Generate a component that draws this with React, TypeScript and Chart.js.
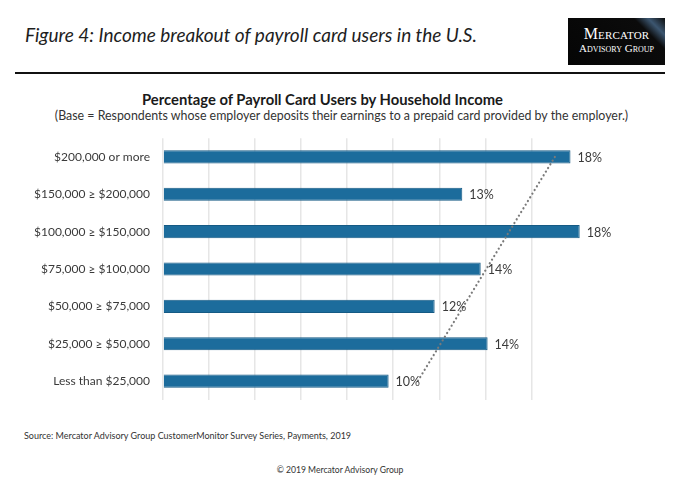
import React, { useEffect, useRef } from "react";
import { Chart, registerables } from "chart.js";

Chart.register(...registerables);

const categories = [
  "$200,000 or more",
  "$150,000 ≥ $200,000",
  "$100,000 ≥ $150,000",
  "$75,000 ≥ $100,000",
  "$50,000 ≥ $75,000",
  "$25,000 ≥ $50,000",
  "Less than $25,000",
];
const values = [17.7, 13.0, 18.1, 13.8, 11.8, 14.1, 9.8];
const valueLabels = ["18%", "13%", "18%", "14%", "12%", "14%", "10%"];

const FONT = "Lato, 'Open Sans', sans-serif";

const dataLabelPlugin = {
  id: "dataLabels",
  afterDatasetsDraw(chart: any) {
    const ctx = chart.ctx;
    const meta = chart.getDatasetMeta(0);
    ctx.save();
    ctx.font = `12.5px ${FONT}`;
    ctx.fillStyle = "#3a3a3a";
    ctx.textAlign = "left";
    ctx.textBaseline = "middle";
    meta.data.forEach((el: any, i: number) => {
      ctx.fillText(valueLabels[i], el.x + 7, el.y + 1);
    });
    ctx.restore();
  },
};

const trendPlugin = {
  id: "trendLine",
  afterDatasetsDraw(chart: any) {
    const n = values.length;
    let sx = 0, sy = 0, sxx = 0, sxy = 0;
    values.forEach((v, i) => {
      sx += i; sy += v; sxx += i * i; sxy += i * v;
    });
    const slope = (n * sxy - sx * sy) / (n * sxx - sx * sx);
    const intercept = (sy - slope * sx) / n;
    const xs = chart.scales.x;
    const ys = chart.scales.y;
    const ctx = chart.ctx;
    ctx.save();
    ctx.strokeStyle = "#7a7a7a";
    ctx.lineWidth = 2.2;
    ctx.lineCap = "round";
    ctx.setLineDash([0.1, 4.2]);
    ctx.beginPath();
    ctx.moveTo(xs.getPixelForValue(intercept), ys.getPixelForValue(0));
    ctx.lineTo(xs.getPixelForValue(intercept + slope * (n - 1)), ys.getPixelForValue(n - 1));
    ctx.stroke();
    ctx.restore();
  },
};

export default function App() {
  const ref = useRef<HTMLCanvasElement | null>(null);
  useEffect(() => {
    if (!ref.current) return;
    const chart = new Chart(ref.current, {
      type: "bar",
      data: {
        labels: categories,
        datasets: [
          {
            data: values,
            backgroundColor: "#1c6c9c",
            borderColor: "#155a84",
            borderWidth: 1,
            categoryPercentage: 1,
            barPercentage: 0.35,
          },
        ],
      },
      options: {
        indexAxis: "y",
        animation: false,
        responsive: false,
        maintainAspectRatio: false,
        layout: { padding: { top: 10, bottom: 10, left: 0, right: 95 } },
        plugins: {
          legend: { display: false },
          tooltip: { enabled: false },
        },
        scales: {
          x: {
            min: 0,
            max: 18.2,
            ticks: { display: false, stepSize: 2 },
            grid: {
              drawTicks: false,
              color: (c: any) =>
                c.tick && Math.abs(c.tick.value % 2) < 1e-6 ? "#e6e6e6" : "rgba(0,0,0,0)",
              lineWidth: 1.5,
            },
            border: { display: false },
            afterFit: (s: any) => {
              s.height = 0;
            },
          },
          y: {
            grid: { display: false, drawTicks: false },
            border: { display: false },
            ticks: {
              color: "#3a3a3a",
              padding: 13,
              font: { family: FONT, size: 12 },
            },
            afterFit: (s: any) => {
              s.width = 163;
            },
          },
        },
      },
      plugins: [trendPlugin, dataLabelPlugin],
    });
    return () => chart.destroy();
  }, []);

  const abs = (extra: React.CSSProperties): React.CSSProperties => ({
    position: "absolute",
    whiteSpace: "nowrap",
    ...extra,
  });

  return (
    <div
      style={{
        position: "relative",
        width: 677,
        height: 488,
        margin: -8,
        background: "#fff",
        overflow: "hidden",
        fontFamily: FONT,
      }}
    >
      <div style={abs({ left: 25, top: 23, fontSize: 19, fontStyle: "italic", color: "#1e1e1e" })}>
        Figure 4: Income breakout of payroll card users in the U.S.
      </div>
      <div
        style={abs({
          left: 568,
          top: 18,
          width: 97,
          height: 47,
          background:
            "linear-gradient(225deg, #0b0b0b 0%, #3c5670 12%, #0b0b0b 22%, #050505 100%)",
          color: "#fff",
          fontFamily: "'Liberation Serif', 'DejaVu Serif', serif",
          textAlign: "center",
        })}
      >
        <div style={{ fontSize: 16, fontVariant: "small-caps", marginTop: 8, lineHeight: "16px", letterSpacing: 0.2 }}>
          Mercator
        </div>
        <div style={{ fontSize: 11, fontVariant: "small-caps", lineHeight: "13px" }}>
          Advisory Group
        </div>
      </div>
      <div style={abs({ left: 15, top: 72, width: 650, height: 2, background: "#111" })} />
      <div
        style={abs({
          left: 0,
          width: 645,
          top: 90,
          textAlign: "center",
          fontWeight: "bold",
          fontSize: 14.8,
          color: "#1a1a1a",
        })}
      >
        Percentage of Payroll Card Users by Household Income
      </div>
      <div
        style={abs({
          left: 0,
          width: 683,
          top: 108,
          textAlign: "center",
          fontSize: 12.4,
          color: "#333",
        })}
      >
        (Base = Respondents whose employer deposits their earnings to a prepaid card provided by the employer.)
      </div>
      <canvas
        ref={ref}
        width={677}
        height={302}
        style={{ position: "absolute", left: 0, top: 118, width: 677, height: 302 }}
      />
      <div style={abs({ left: 24, top: 430, fontSize: 9, color: "#333" })}>
        Source: Mercator Advisory Group CustomerMonitor Survey Series, Payments, 2019
      </div>
      <div style={abs({ left: 0, width: 680, top: 465, textAlign: "center", fontSize: 8.6, color: "#333" })}>
        © 2019 Mercator Advisory Group
      </div>
    </div>
  );
}
